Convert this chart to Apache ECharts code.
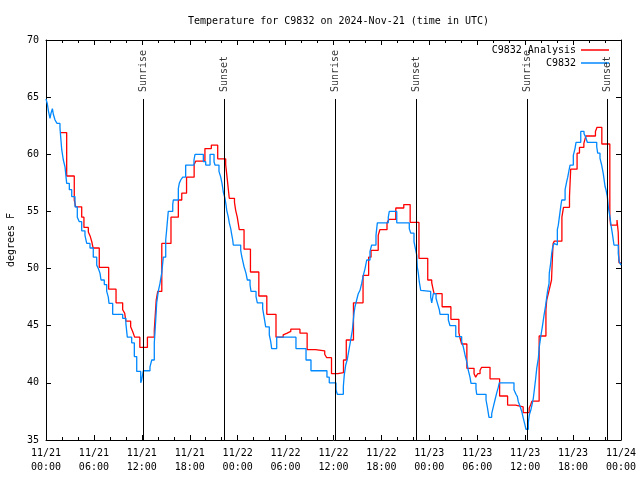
<!DOCTYPE html>
<html>
<head>
<meta charset="utf-8">
<script src="https://cdn.jsdelivr.net/npm/echarts@6/dist/echarts.min.js"></script>
<style>html,body{margin:0;padding:0;background:#fff}#c{width:640px;height:480px}</style>
</head>
<body>
<div id="c"></div>
<script>
// Hours since 2024-11-21 00:00 UTC
var xTickLabels = ['11/21\n00:00','11/21\n06:00','11/21\n12:00','11/21\n18:00','11/22\n00:00','11/22\n06:00','11/22\n12:00','11/22\n18:00','11/23\n00:00','11/23\n06:00','11/23\n12:00','11/23\n18:00','11/24\n00:00'];
var sunHours = [12.18, 22.33, 36.2, 46.33, 60.25, 70.28];
var sunLabels = ['Sunrise','Sunset','Sunrise','Sunset','Sunrise','Sunset'];

// C9832 Analysis [hour, degF]
var analysisData = [
[1.88,61.9],[2.59,58.1],[3.54,56.0],[3.72,55.4],[4.47,54.5],[4.75,53.6],[5.3,53.2],[5.55,52.8],[5.75,52.3],[5.9,51.8],
[6.67,50.1],[7.85,48.2],[8.77,47.0],[9.6,46.4],[9.85,46.1],[10.0,45.4],[10.6,44.9],[10.85,44.5],[11.1,44.0],[11.75,43.1],
[12.7,44.0],[13.56,44.6],[13.8,47.25],[13.99,48.0],[14.5,52.2],[15.65,54.5],[16.57,56.0],[17.0,56.6],[17.6,58.0],[18.55,59.1],
[18.75,59.4],[19.9,60.5],[20.7,60.8],[21.5,59.6],[22.5,59.1],[22.7,57.8],[22.95,56.15],[23.6,55.8],[23.75,55.1],[23.95,54.5],
[24.2,53.4],[24.8,51.7],[25.6,49.7],[26.65,47.6],[27.65,46.0],[28.8,44.0],[29.7,44.2],[29.95,44.35],[30.2,44.5],[30.65,44.7],
[31.8,44.35],[32.7,42.9],[33.75,42.8],[34.9,42.5],[35.15,42.2],[35.75,40.8],[36.55,40.9],[37.25,42.0],[37.6,43.75],[38.5,47.0],
[39.7,49.4],[40.4,51.0],[40.7,51.6],[41.6,52.9],[41.8,53.4],[42.7,54.0],[42.95,54.3],[43.8,55.3],[44.8,55.6],[45.6,54.05],
[46.7,50.9],[47.8,49.0],[48.3,48.76],[48.5,48.1],[48.6,47.8],[49.6,46.66],[50.7,45.56],[51.7,44.4],[51.85,43.9],[52.05,43.4],
[52.7,41.27],[53.6,40.8],[53.8,40.5],[54.05,40.8],[54.35,41.1],[54.55,41.36],[55.6,40.35],[56.8,38.85],[57.8,38.06],[58.8,37.9],
[59.75,37.4],[60.5,37.77],[60.7,38.1],[60.85,38.4],[61.75,44.1],[62.6,46.4],[62.7,47.25],[62.9,47.8],[63.1,48.4],[63.3,49.0],
[63.4,50.75],[63.5,52.2],[63.65,52.4],[64.6,54.5],[64.8,55.36],[65.55,56.3],[65.7,58.7],[66.5,60.1],[66.8,60.6],[67.35,60.96],
[67.6,61.6],[68.8,62.0],[69.0,62.36],[69.6,60.9],[70.6,54.5],[70.7,53.8],[71.5,54.25],[71.65,53.2],[71.75,50.5],[72,50.5]
];

// C9832 observations [hour, degF]
var observedData = [
[0,64.84],[0.17,64.4],[0.3,63.8],[0.5,63.15],[0.63,63.6],[0.8,64.0],[0.92,63.5],[1.13,63.0],[1.38,62.7],[1.75,62.3],
[1.97,60.4],[2.17,59.5],[2.38,58.9],[2.59,57.46],[2.92,56.9],[3.22,56.3],[3.63,55.4],[3.92,54.5],[4.17,54.1],[4.47,53.3],
[4.88,52.9],[5.1,52.2],[5.51,51.8],[5.92,51.0],[6.35,50.3],[6.55,50.0],[6.76,49.6],[6.89,49.0],[7.3,48.6],[7.6,48.0],
[7.8,47.5],[7.89,46.96],[8.35,46.0],[9.6,45.65],[10.0,45.2],[10.18,44.0],[10.73,43.5],[11.06,42.3],[11.36,41.0],[11.86,40.0],
[11.98,40.25],[12.18,41.06],[13.02,41.4],[13.24,42.0],[13.56,43.5],[13.74,45.5],[13.86,47.0],[14.06,48.0],[14.27,48.7],[14.49,49.6],
[14.69,51.0],[14.99,52.5],[15.11,53.4],[15.31,55.0],[15.87,55.6],[15.94,56.0],[16.57,57.0],[16.69,57.46],[16.87,57.75],[17.12,58.0],
[17.49,59.06],[18.53,59.5],[18.66,60.0],[19.7,59.35],[20.0,59.06],[20.54,60.0],[21.04,59.35],[21.16,59.06],[21.66,58.5],[21.88,58.0],
[22.04,57.46],[22.2,56.7],[22.41,56.15],[22.54,55.6],[22.63,55.1],[22.83,54.5],[22.95,54.0],[23.13,53.5],[23.25,53.0],[23.38,52.5],
[23.45,52.06],[24.38,51.6],[24.5,51.1],[24.63,50.7],[24.8,50.16],[25.04,49.6],[25.21,49.0],[25.55,48.56],[25.67,48.0],[26.3,47.54],
[26.46,47.0],[27.13,46.5],[27.3,45.8],[27.51,44.9],[27.96,44.2],[28.14,43.6],[28.26,43.0],[28.89,44.0],[31.3,43.0],[32.56,42.0],
[33.18,41.06],[35.18,40.5],[35.47,40.0],[36.31,39.4],[36.48,39.0],[37.23,39.66],[37.35,40.7],[37.53,41.56],[37.73,42.06],[37.94,42.9],
[38.15,43.75],[38.36,44.6],[38.57,46.1],[38.69,46.66],[38.9,47.25],[39.1,47.8],[39.32,48.1],[39.53,48.7],[39.73,49.4],[39.95,50.0],
[40.16,50.75],[40.57,51.5],[40.78,52.06],[41.32,52.9],[41.49,54.0],[42.86,54.5],[42.99,55.0],[43.92,54.0],[45.49,53.5],[45.67,53.1],
[46.08,52.35],[46.21,51.9],[46.42,51.2],[46.49,50.16],[46.62,49.6],[46.74,48.85],[46.92,48.1],[47.04,48.0],[48.17,47.5],[48.3,47.0],
[48.5,47.8],[48.84,47.4],[49.0,47.0],[49.25,46.4],[49.34,46.0],[50.38,45.5],[50.59,45.0],[51.31,44.04],[52.05,43.6],[52.25,43.16],
[52.47,42.44],[52.68,41.85],[52.88,41.1],[53.09,40.5],[53.22,39.96],[53.84,39.5],[53.93,39.0],[55.1,38.5],[55.26,37.9],[55.47,36.98],
[55.81,37.3],[56.01,37.9],[56.22,38.5],[56.43,39.1],[56.63,39.6],[56.76,40.0],[58.6,39.4],[58.85,39.0],[59.02,38.8],[59.14,38.35],
[59.35,37.97],[59.57,37.5],[59.77,36.9],[59.98,36.3],[60.1,35.94],[60.39,36.5],[60.52,37.2],[60.7,37.6],[60.82,37.97],[61.02,38.65],
[61.15,39.4],[61.32,40.4],[61.45,41.27],[61.65,42.15],[61.77,43.16],[61.95,44.04],[62.15,44.9],[62.36,45.9],[62.57,46.8],[62.7,47.5],
[62.82,48.1],[62.99,48.7],[63.02,49.6],[63.2,50.5],[63.32,51.3],[63.45,51.9],[63.61,52.2],[63.86,52.06],[64.03,53.4],[64.15,53.8],
[64.28,54.5],[64.45,55.4],[64.58,56.0],[65.0,56.9],[65.2,57.6],[65.33,58.0],[65.49,58.6],[65.62,59.06],[66.03,59.9],[66.24,60.5],
[66.37,61.05],[66.96,62.0],[67.37,61.8],[67.58,61.5],[67.78,61.05],[68.96,60.66],[69.08,60.1],[69.37,59.65],[69.58,59.06],[69.78,58.3],
[70.0,57.2],[70.12,56.9],[70.29,56.3],[70.41,55.4],[70.62,54.5],[70.75,53.8],[70.91,53.1],[71.12,52.06],[71.66,51.3],[71.78,50.6],[72,50.3]
];

var FONT = 'DejaVu Sans Mono';
var sunLineTop = 64.84;
var sunLabelBase = 65.45;

var chart = echarts.init(document.getElementById('c'), null, {renderer: 'canvas'});

function axisCommon(pos, showLabel) {
  return {
    type: 'value', position: pos,
    axisLine: {show: true, onZero: false, lineStyle: {color: '#000', width: 1}},
    axisTick: {show: true, inside: true, length: 5, lineStyle: {color: '#000'}},
    splitLine: {show: false},
    axisLabel: {show: showLabel, color: '#000', fontFamily: FONT, fontSize: 10}
  };
}

var xBottom = axisCommon('bottom', true);
xBottom.min = 0; xBottom.max = 72; xBottom.interval = 6;
xBottom.minorTick = {show: true, splitNumber: 3, length: 3, lineStyle: {color: '#000'}};
xBottom.axisLabel.formatter = function (v) { return xTickLabels[Math.round(v / 6)]; };
xBottom.axisLabel.lineHeight = 14;
xBottom.axisLabel.margin = 6;

var xTop = axisCommon('top', false);
xTop.min = 0; xTop.max = 72; xTop.interval = 6;
xTop.minorTick = {show: true, splitNumber: 3, length: 3, lineStyle: {color: '#000'}};

var yLeft = axisCommon('left', true);
yLeft.min = 35; yLeft.max = 70; yLeft.interval = 5;
yLeft.axisLabel.margin = 7;
yLeft.name = 'degrees F';
yLeft.nameLocation = 'middle';
yLeft.nameGap = 30;
yLeft.nameTextStyle = {color: '#000', fontFamily: FONT, fontSize: 10};

var yRight = axisCommon('right', false);
yRight.min = 35; yRight.max = 70; yRight.interval = 5;

var sunMarkLines = sunHours.map(function (h) {
  return [{coord: [h, 35]}, {coord: [h, sunLineTop]}];
});
var sunLabelData = sunHours.map(function (h, i) {
  return {value: [h, sunLabelBase], name: sunLabels[i]};
});

var legendBase = {
  orient: 'vertical', align: 'right', right: 31, padding: 0,
  itemWidth: 28, itemHeight: 1.5, icon: 'rect', itemGap: 0,
  textStyle: {color: '#000', fontFamily: FONT, fontSize: 10},
  selectedMode: false
};

chart.setOption({
  animation: false,
  backgroundColor: '#fff',
  title: {
    text: 'Temperature for C9832 on 2024-Nov-21 (time in UTC)',
    left: 183, top: 11,
    textStyle: {color: '#000', fontFamily: FONT, fontSize: 10, fontWeight: 'normal'}
  },
  legend: [
    Object.assign({}, legendBase, {data: ['C9832 Analysis'], top: 45}),
    Object.assign({}, legendBase, {data: ['C9832'], top: 58})
  ],
  grid: {left: 46, right: 19, top: 40, bottom: 40, containLabel: false, outerBoundsMode: 'none'},
  xAxis: [xBottom, xTop],
  yAxis: [yLeft, yRight],
  series: [
    {
      name: 'C9832 Analysis', type: 'line', step: 'end', data: analysisData,
      showSymbol: false, symbol: 'none', color: '#ff0000',
      lineStyle: {color: '#ff0000', width: 1.3}
    },
    {
      name: 'C9832', type: 'line', step: 'end', data: observedData,
      showSymbol: false, symbol: 'none', color: '#0088ff',
      lineStyle: {color: '#0088ff', width: 1.3}
    },
    {
      name: 'sun', type: 'scatter', data: sunLabelData, symbolSize: 0,
      silent: true,
      label: {
        show: true, position: 'inside', rotate: 90, align: 'left', verticalAlign: 'middle',
        formatter: function (p) { return p.name; },
        color: '#000', fontFamily: FONT, fontSize: 10
      },
      markLine: {
        silent: true, symbol: 'none', animation: false,
        label: {show: false},
        lineStyle: {color: '#000', width: 1, type: 'solid'},
        data: sunMarkLines
      },
      z: 5
    }
  ]
});
</script>
</body>
</html>
